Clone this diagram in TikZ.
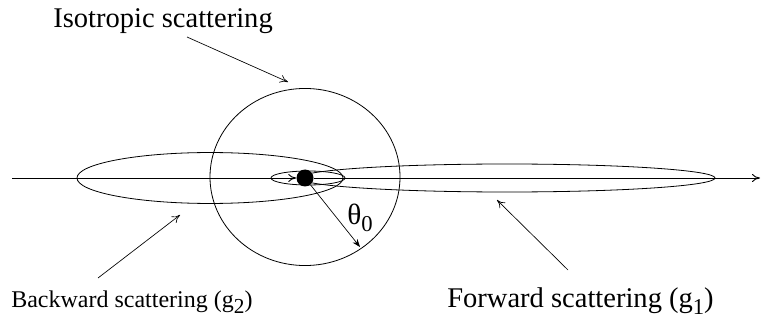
\documentclass[tikz,border=0pt]{standalone}
\usepackage{fontspec}
\setmainfont{Liberation Serif}
\newfontfamily\lblfont{Liberation Serif}
\usetikzlibrary{arrows.meta,positioning}

\newcommand{\lowsub}[2]{\raisebox{-0.55ex}{\fontsize{#2}{#2}\selectfont #1}}

\begin{document}
\begin{tikzpicture}[
  x=0.75pt,y=-0.75pt,
  every node/.style={font=\lblfont\fontsize{21.4}{24}\selectfont},
  >={To[length=6pt,width=6pt]},
  lbl/.style={inner sep=0pt,anchor=base west},
  lobe/.style={draw,line width=0.6pt},
  pointer/.style={->,line width=0.5pt}
]
\useasboundingbox (0,0) rectangle (762,320);

% scattering lobes
\draw[lobe] (305,177) ellipse [x radius=71.25pt,y radius=66.4pt];
\draw[lobe] (210,178) ellipse [x radius=99.75pt,y radius=19.1pt];
\draw[lobe] (507,178) ellipse [x radius=156pt,y radius=10.5pt];
\draw[lobe] (308,178) ellipse [x radius=27.75pt,y radius=5.25pt];

% particle and axis
\node[circle,fill,inner sep=0pt,minimum size=12.75pt] (dot) at (305,178) {};
\coordinate (axL) at (12,178);
\coordinate (axR) at (760,178);
\draw[->,line width=0.7pt] (axL) -- (dot.west);
\draw[->,line width=0.7pt] (dot) -- (axR);

% angle
\coordinate (rim) at (360,247);
\draw[-{Stealth[length=6pt,width=4.5pt]},line width=0.5pt] (dot) -- (rim);
\node[lbl,font=\lblfont\fontsize{22}{24}\selectfont] (theta) at (347,224) {θ\lowsub{0}{17}};

% labels
\node[lbl] (iso)  at (53,28)   {Isotropic scattering};
\node[lbl,font=\lblfont\fontsize{18}{20}\selectfont] (back) at (11,307)
  {Backward scattering (g\lowsub{2}{16})};
\node[lbl] (fwd)  at (447,307) {Forward scattering (g\lowsub{1}{17})};

\coordinate (isoA)  at (187,37);  \coordinate (isoB)  at (288,82);
\coordinate (backA) at (98,278);  \coordinate (backB) at (180,215);
\coordinate (fwdA)  at (568,270); \coordinate (fwdB)  at (497,200);
\draw[pointer] (isoA)  -- (isoB);
\draw[pointer] (backA) -- (backB);
\draw[pointer] (fwdA)  -- (fwdB);
\end{tikzpicture}
\end{document}
